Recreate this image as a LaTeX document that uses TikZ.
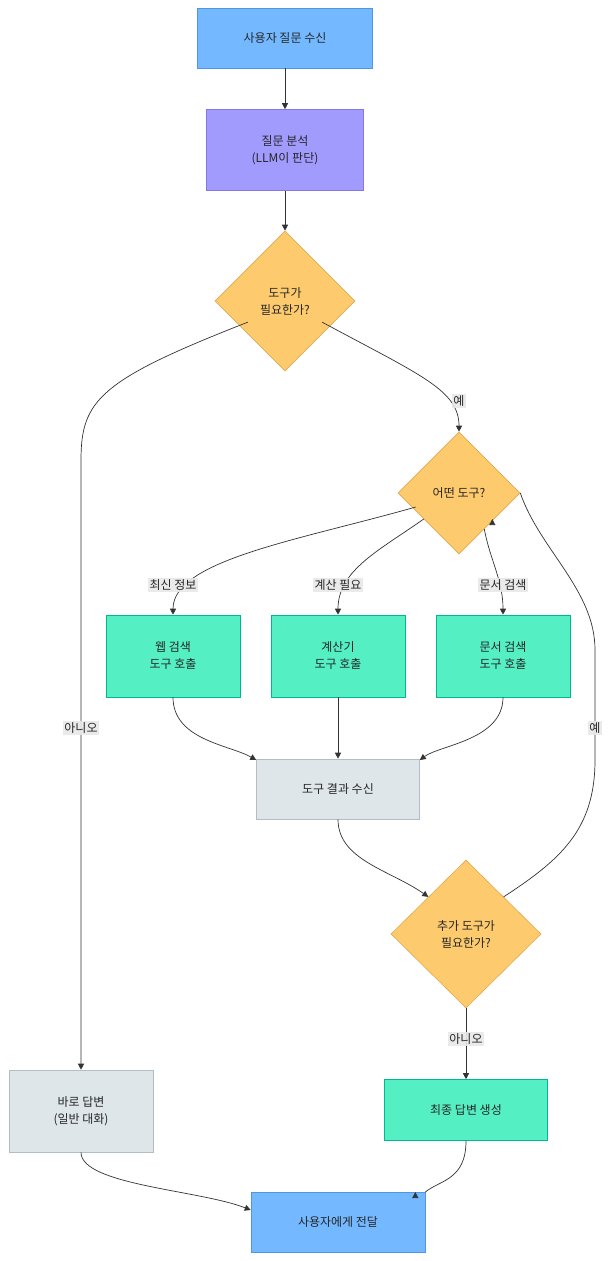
\documentclass[tikz,border=0pt]{standalone}
\usepackage{fontspec}
\setmainfont{Noto Sans CJK KR}
\usetikzlibrary{shapes.geometric,arrows.meta}
\begin{document}
\begin{tikzpicture}[x=1pt,y=-1pt,
 every node/.style={font=\fontsize{12}{17}\selectfont,align=center,text=black!85},
 box/.style={draw,inner sep=0,line width=0.6pt},
 blue/.style={box,fill=blue!0,fill={rgb,255:red,116;green,185;blue,255},draw={rgb,255:red,80;green,150;blue,230}},
 purp/.style={box,fill={rgb,255:red,162;green,155;blue,254},draw={rgb,255:red,130;green,120;blue,230}},
 grn/.style={box,fill={rgb,255:red,85;green,239;blue,196},draw={rgb,255:red,0;green,184;blue,148}},
 gry/.style={box,fill={rgb,255:red,223;green,230;blue,233},draw={rgb,255:red,178;green,190;blue,195}},
 dia/.style={box,diamond,aspect=1,fill={rgb,255:red,253;green,203;blue,110},draw={rgb,255:red,225;green,170;blue,80}},
 lab/.style={fill={rgb,255:red,232;green,232;blue,232},fill opacity=0.9,text opacity=1,inner sep=1.5pt},
 arr/.style={draw={rgb,255:red,51;green,51;blue,51},line width=0.7pt,-{Triangle[length=6pt,width=6pt]}}]
\useasboundingbox (0,0) rectangle (610,1261);
\fill[white] (0,0) rectangle (610,1261);
\node[blue,minimum width=175,minimum height=60] (n1) at (285,38) {사용자 질문 수신};
\node[purp,minimum width=157,minimum height=81] (n2) at (285,150) {질문 분석\\(LLM이 판단)};
\node[dia,minimum width=140,minimum height=140] (d1) at (285,301) {도구가\\필요한가?};
\node[dia,minimum width=122,minimum height=122] (d2) at (459,493) {어떤 도구?};
\node[grn,minimum width=134,minimum height=82] (web) at (173,656) {웹 검색\\도구 호출};
\node[grn,minimum width=134,minimum height=82] (calc) at (338,656) {계산기\\도구 호출};
\node[grn,minimum width=134,minimum height=82] (doc) at (503,656) {문서 검색\\도구 호출};
\node[gry,minimum width=163,minimum height=60] (res) at (338,789) {도구 결과 수신};
\node[dia,minimum width=150,minimum height=148] (d3) at (466,934) {추가 도구가\\필요한가?};
\node[gry,minimum width=144,minimum height=82] (dir) at (81,1111) {바로 답변\\(일반 대화)};
\node[grn,minimum width=163,minimum height=61] (fin) at (466,1110) {최종 답변 생성};
\node[blue,minimum width=174,minimum height=60] (del) at (338,1222) {사용자에게 전달};
\coordinate (c1) at (81,460);
\draw[arr] (n1) -- (n2);
\draw[arr] (n2) -- (d1);
\draw[arr] (d1.south west) ++(-2,-14) .. controls (100,380) and (81,400) .. (c1) -- (dir.north);
\draw[arr] (d1.south east) ++(2,-14) .. controls (420,375) and (459,390) .. (d2.north);
\draw[arr] (d2.west) ++(18,14) .. controls (300,540) and (173,560) .. (web.north);
\draw[arr] (d2.west) ++(26,26) .. controls (380,550) and (338,570) .. (calc.north);
\draw[arr] (d2.east) ++(-36,36) .. controls (490,560) and (503,580) .. (doc.north);
\draw[arr] (web.south) .. controls (173,740) and (230,745) .. (res.west |- 0,760);
\draw[arr] (calc) -- (res);
\draw[arr] (doc.south) .. controls (503,740) and (440,745) .. (res.east |- 0,760);
\draw[arr] (res.south) .. controls (338,860) and (390,870) .. (d3.north west);
\draw[arr] (d3.north east) .. controls (560,860) and (595,830) .. (595,760) -- (595,650) .. controls (595,590) and (540,550) .. (d2.east) ++(-28,26);
\draw[arr] (d3) -- (fin);
\draw[arr] (dir.south) .. controls (81,1185) and (200,1190) .. (del.west |- 0,1210);
\draw[arr] (fin.south) .. controls (466,1180) and (440,1180) .. (del.east |- 0,1192) ++(-10,0);
\node[lab] (l1) at (459,401) {예};
\node[lab] (l2) at (81,728) {아니오};
\node[lab] (l3) at (173,585) {최신 정보};
\node[lab] (l4) at (338,585) {계산 필요};
\node[lab] (l5) at (503,585) {문서 검색};
\node[lab] (l6) at (595,728) {예};
\node[lab] (l7) at (466,1039) {아니오};
\end{tikzpicture}
\end{document}
